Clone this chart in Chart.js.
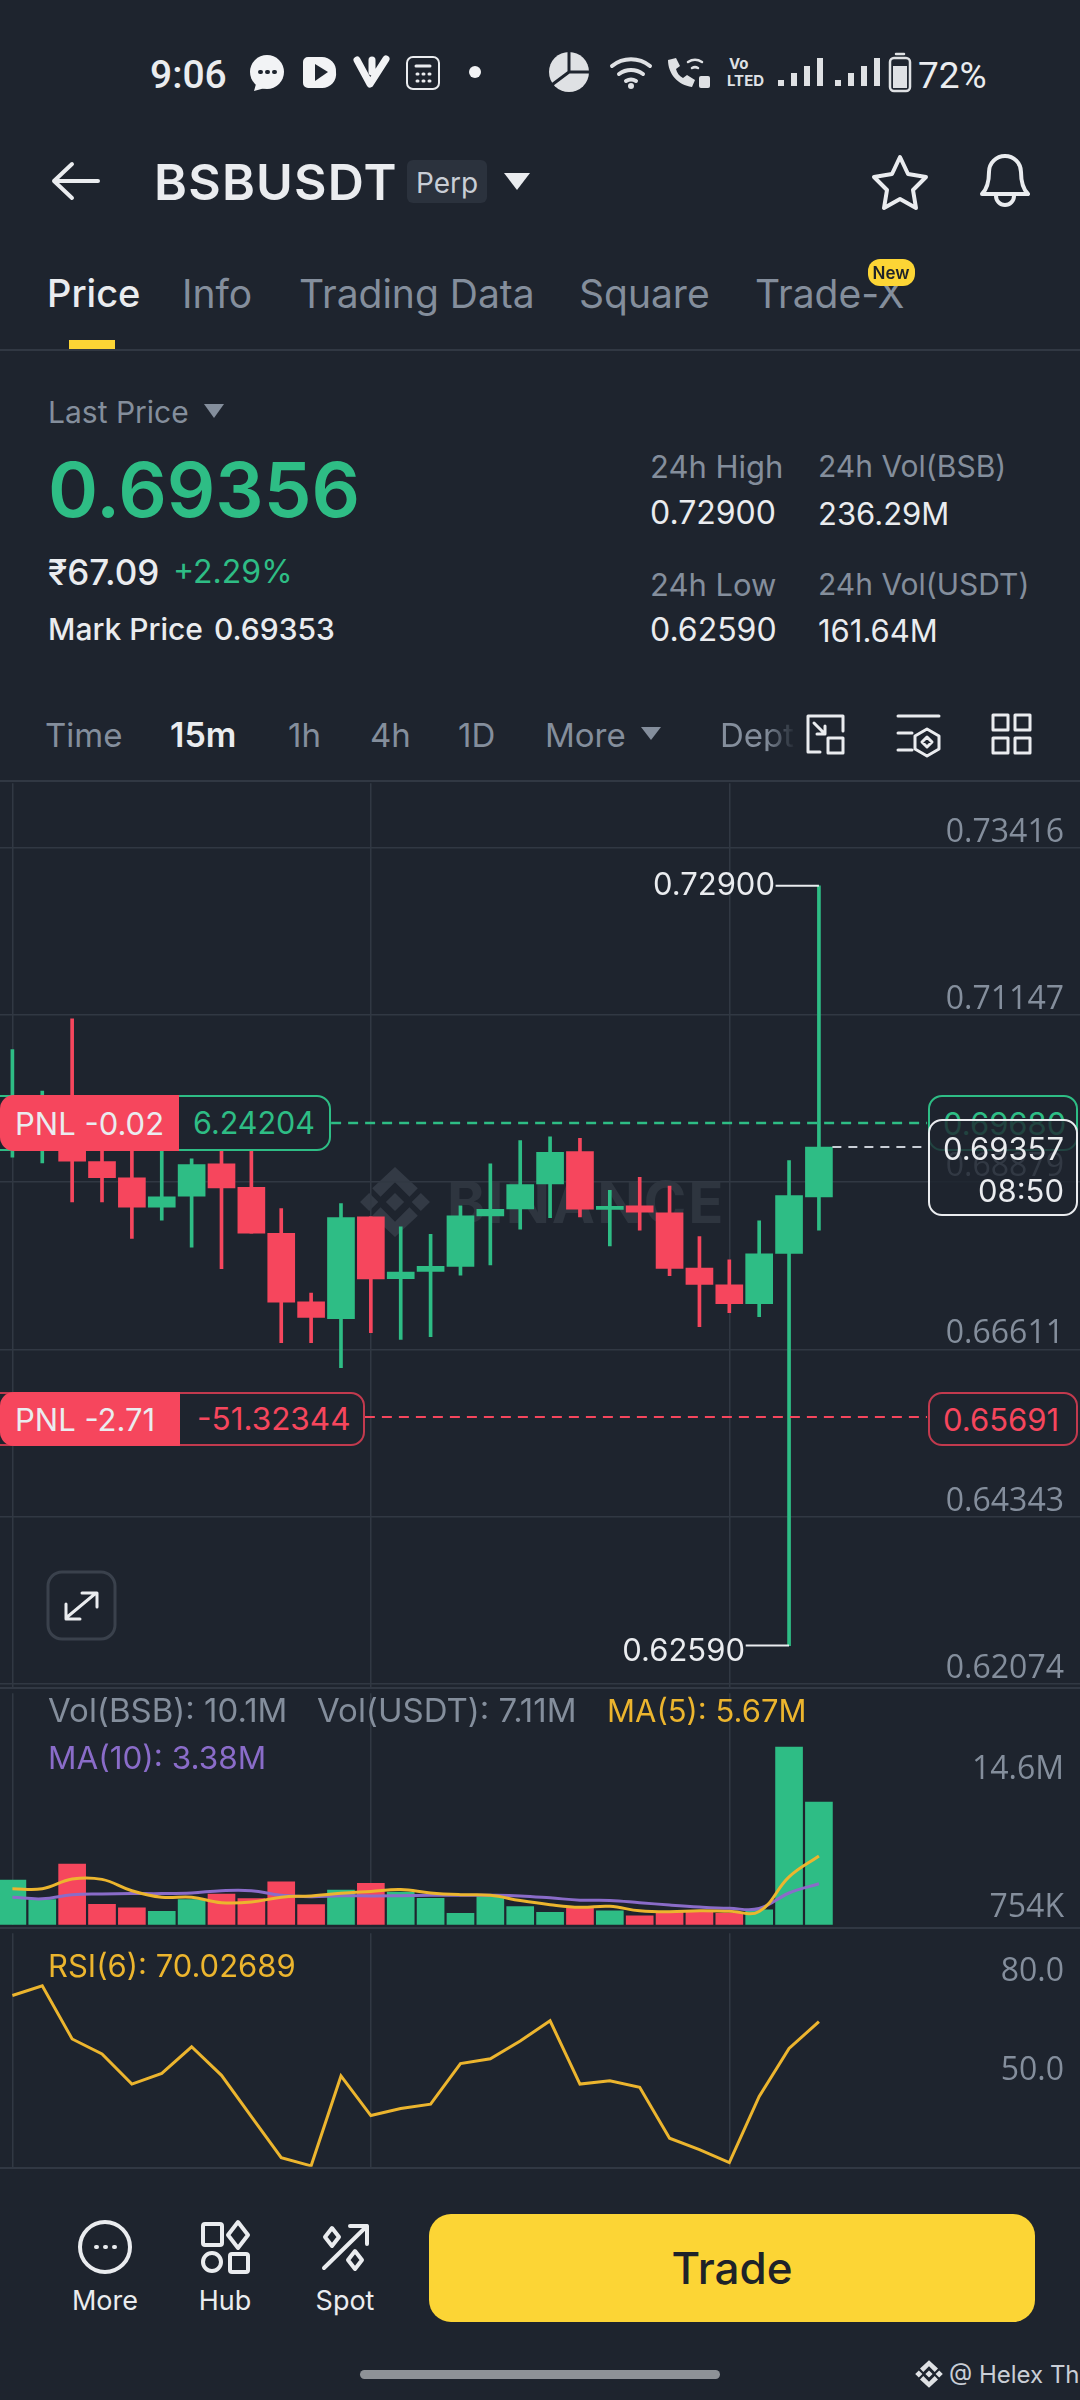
<!DOCTYPE html>
<html lang="en">
<head>
<meta charset="UTF-8">
<title>BSBUSDT Perp</title>
<script src="https://cdn.jsdelivr.net/npm/chart.js"></script>
<style>
    html, body { margin: 0; padding: 0; background: #1e242e; }
    #page { position: relative; width: 1080px; height: 2400px; overflow: hidden; background: #1e242e; font-family: Inter, Roboto, sans-serif; color: #eaecef; }
    .t { position: absolute; white-space: nowrap; transform: translateY(-50%); line-height: 1; z-index: 5; }
    .c { transform: translate(-50%, -50%); }
    .gray { color: #848e9c; }
    .green { color: #2ebd85; }
    .red { color: #f6465d; }
    .yellow { color: #ecb52e; }
    canvas { position: absolute; left: 0; z-index: 2; }
    .rule { position: absolute; left: 0; width: 1080px; height: 2px; background: #313843; z-index: 1; }
    .box { position: absolute; box-sizing: border-box; border-radius: 14px; z-index: 4; }
    .pnl { position: absolute; left: 0; box-sizing: border-box; background: #f6465d; z-index: 4; }
    svg { position: absolute; left: 0; top: 0; }
</style>
</head>
<body>
<div id="page">
    <svg width="1080" height="2400" style="z-index:1">
        <defs>
            <symbol id="bnb" viewBox="0 0 100 100">
                <path d="M50 38L62 50L50 62L38 50Z M16 38L28 50L16 62L4 50Z M84 38L96 50L84 62L72 50Z M50 4L80 32L69 43L50 24L31 43L20 32Z M50 96L80 68L69 57L50 76L31 57L20 68Z"/>
            </symbol>
        </defs>
        <use href="#bnb" x="357" y="1164" width="76" height="76" fill="#333a45"/>
    </svg>
    <div class="t" style="left:447px;top:1202px;font-size:58px;font-weight:700;color:#2e353f;z-index:1;letter-spacing:2px">BINANCE</div>

    <canvas id="priceChart" style="top:780px"></canvas>
    <canvas id="volChart" style="top:1690px"></canvas>
    <canvas id="rsiChart" style="top:1930px"></canvas>

    <div class="rule" style="top:349px"></div>
    <div class="rule" style="top:780px"></div>
    <div class="rule" style="top:1687px"></div>
    <div class="rule" style="top:1927px"></div>
    <div class="rule" style="top:2167px"></div>

    <!-- status bar -->
    <div class="t" style="left:150px;top:75px;font-size:39px;font-weight:500;font-family:Roboto">9:06</div>
    <div class="t" style="left:918px;top:75px;font-size:37px;font-family:Roboto">72%</div>
    <div class="t" style="left:729px;top:63px;font-size:15px;font-weight:700;color:#dfe1e4">Vo</div>
    <div class="t" style="left:727px;top:80px;font-size:15px;font-weight:700;color:#dfe1e4">LTED</div>

    <!-- header -->
    <div class="t" style="left:154px;top:182px;font-size:50px;font-weight:600;letter-spacing:1.2px">BSBUSDT</div>
    <div style="position:absolute;left:407px;top:160px;width:80px;height:43px;border-radius:6px;background:#2b323d"></div>
    <div class="t" style="left:416px;top:183px;font-size:28px;color:#c9ced6">Perp</div>

    <div class="t" style="left:47px;top:293px;font-size:38px;font-weight:500">Price</div>
    <div class="t gray" style="left:182px;top:293px;font-size:39px">Info</div>
    <div class="t gray" style="left:299px;top:293px;font-size:39px">Trading Data</div>
    <div class="t gray" style="left:579px;top:293px;font-size:39px">Square</div>
    <div class="t gray" style="left:755px;top:293px;font-size:39px">Trade-X</div>
    <div style="position:absolute;left:868px;top:259px;width:47px;height:27px;border-radius:12px;background:#fcd535;z-index:6"></div>
    <div class="t c" style="left:891px;top:273px;font-size:17px;font-weight:600;color:#1e2329;z-index:7">New</div>
    <div style="position:absolute;left:69px;top:340px;width:46px;height:9px;background:#fcd535"></div>

    <!-- ticker -->
    <div class="t gray" style="left:48px;top:412px;font-size:30px">Last Price</div>
    <div class="t green" style="left:48px;top:489px;font-size:76px;font-weight:600">0.69356</div>
    <div class="t" style="left:48px;top:572px;font-size:35px;font-weight:500">₹67.09</div>
    <div class="t green" style="left:173px;top:572px;font-size:32px">+2.29%</div>
    <div class="t" style="left:48px;top:629px;font-size:30px;font-weight:500">Mark Price</div>
    <div class="t" style="left:214px;top:629px;font-size:30px;font-weight:500">0.69353</div>

    <div class="t gray" style="left:650px;top:466px;font-size:31px">24h High</div>
    <div class="t" style="left:650px;top:513px;font-size:32px">0.72900</div>
    <div class="t gray" style="left:650px;top:584px;font-size:31px">24h Low</div>
    <div class="t" style="left:650px;top:630px;font-size:32px">0.62590</div>
    <div class="t gray" style="left:818px;top:466px;font-size:30px">24h Vol(BSB)</div>
    <div class="t" style="left:818px;top:513px;font-size:31px">236.29M</div>
    <div class="t gray" style="left:818px;top:584px;font-size:30px">24h Vol(USDT)</div>
    <div class="t" style="left:818px;top:630px;font-size:31px">161.64M</div>

    <!-- interval row -->
    <div class="t gray" style="left:45px;top:735px;font-size:33px">Time</div>
    <div class="t" style="left:170px;top:735px;font-size:34px;font-weight:600">15m</div>
    <div class="t gray" style="left:288px;top:735px;font-size:33px">1h</div>
    <div class="t gray" style="left:370px;top:735px;font-size:33px">4h</div>
    <div class="t gray" style="left:458px;top:735px;font-size:33px">1D</div>
    <div class="t gray" style="left:545px;top:735px;font-size:33px">More</div>
    <div class="t gray" style="left:720px;top:735px;font-size:33px;width:76px;overflow:hidden;-webkit-mask-image:linear-gradient(90deg,#000 60%,transparent)">Depth</div>

    <!-- price pane tags -->
    <div class="box" style="left:-20px;top:1095px;width:351px;height:56px;border:2px solid #2ebd85;background:#1e242e"></div>
    <div class="pnl" style="top:1095px;width:179px;height:56px;border-radius:14px 0 0 14px"></div>
    <div class="t" style="left:15px;top:1123px;font-size:31px;z-index:6">PNL -0.02</div>
    <div class="t green" style="left:193px;top:1123px;font-size:30.5px;z-index:6">6.24204</div>

    <div class="box" style="left:-20px;top:1392px;width:385px;height:54px;border:2px solid #c23a4e;background:#1e242e"></div>
    <div class="pnl" style="top:1392px;width:180px;height:54px;border-radius:14px 0 0 14px"></div>
    <div class="t" style="left:15px;top:1419px;font-size:31px;z-index:6">PNL -2.71</div>
    <div class="t red" style="left:197px;top:1419px;font-size:31.5px;z-index:6">-51.32344</div>

    <div class="box" style="left:928px;top:1095px;width:150px;height:56px;border:2px solid #2ebd85;background:#1e242e"></div>
    <div class="t green" style="left:943px;top:1123px;font-size:31px;z-index:4">0.69680</div>
    <div class="box" style="left:928px;top:1392px;width:150px;height:54px;border:2px solid #c23a4e;background:#1e242e"></div>
    <div class="t red" style="left:943px;top:1419px;font-size:31px">0.65691</div>

    <div class="box" style="left:928px;top:1119px;width:150px;height:97px;border:2px solid #eaecef;background:rgba(30,36,46,.8);z-index:5"></div>
    <div class="t" style="right:16px;top:1148px;font-size:31px;z-index:6">0.69357</div>
    <div class="t" style="right:16px;top:1190px;font-size:31px;z-index:6">08:50</div>

    <div class="t" style="right:305px;top:883px;font-size:31px">0.72900</div>
    <div class="t" style="right:335px;top:1649px;font-size:31px">0.62590</div>

    <!-- vol / rsi legends -->
    <div class="t gray" style="left:48px;top:1710px;font-size:33px">Vol(BSB): 10.1M</div>
    <div class="t gray" style="left:317px;top:1710px;font-size:33px">Vol(USDT): 7.11M</div>
    <div class="t yellow" style="left:607px;top:1710px;font-size:31px">MA(5): 5.67M</div>
    <div class="t" style="left:48px;top:1758px;font-size:31.5px;color:#8a6cc9">MA(10): 3.38M</div>
    <div class="t yellow" style="left:48px;top:1965px;font-size:31px">RSI(6): 70.02689</div>

    <!-- bottom bar -->
    <div class="t c" style="left:105px;top:2300px;font-size:27px">More</div>
    <div class="t c" style="left:225px;top:2300px;font-size:27px">Hub</div>
    <div class="t c" style="left:345px;top:2300px;font-size:27px">Spot</div>
    <div style="position:absolute;left:429px;top:2214px;width:606px;height:108px;border-radius:22px;background:#fcd535"></div>
    <div class="t c" style="left:732px;top:2268px;font-size:44px;font-weight:500;color:#1e2329">Trade</div>
    <div style="position:absolute;left:360px;top:2370px;width:360px;height:9px;border-radius:5px;background:#8e9297"></div>
    <div class="t" style="left:949px;top:2375px;font-size:24px;color:#c9ced6">@ Helex Th</div>

    <!-- icons -->
    <svg width="1080" height="2400" style="z-index:6" fill="none" stroke="#eaecef" stroke-width="4" stroke-linecap="round" stroke-linejoin="round">
        <circle cx="267" cy="72" r="17" fill="#f2f3f5" stroke="none"/>
        <path d="M256 84L254 91L265 88Z" fill="#f2f3f5" stroke="none"/>
        <path d="M260 72h1M267 72h1M274 72h1" stroke="#1e242e"/>
        <path d="M312 57h10a14 14 0 0 1 14 15a14 14 0 0 1-14 16h-14a5 5 0 0 1-5-5v-21a5 5 0 0 1 5-5z" fill="#f2f3f5" stroke="none"/>
        <path d="M315 64L328 72L315 81Z" fill="#1e242e" stroke="none"/>
        <path d="M357 60L370 84L386 59M372 60L372 72" stroke="#f2f3f5" stroke-width="7"/>
        <rect x="407" y="57" width="32" height="32" rx="6" stroke-width="2"/>
        <path d="M416 66h14M417 74h1M423 74h1M429 74h1M417 81h1M423 81h1M429 81h1" stroke-width="3"/>
        <circle cx="475" cy="72" r="6" fill="#f2f3f5" stroke="none"/>
        <circle cx="569" cy="72" r="20" fill="#dfe1e4" stroke="none"/>
        <path d="M569 52V72H589M569 72L553 84" stroke="#1e242e" stroke-width="3"/>
        <path d="M612 66a30 30 0 0 1 38 0M619 74a20 20 0 0 1 24 0M626 81a10 10 0 0 1 10 0" stroke="#dfe1e4" stroke-width="4"/>
        <circle cx="631" cy="86" r="3" fill="#dfe1e4" stroke="none"/>
        <path d="M668 60c0 14 10 25 24 27l3-7l-8-5l-4 3c-4-2-6-5-7-9l4-3l-4-8z" fill="#dfe1e4" stroke="none"/>
        <path d="M688 62a13 13 0 0 1 14 0M692 68a6 6 0 0 1 6 0" stroke="#dfe1e4" stroke-width="2.5"/>
        <rect x="699" y="76" width="11" height="12" rx="2" fill="#dfe1e4" stroke="none"/>
        <path d="M781 86V80M794 86V73M807 86V66M820 86V58M838 86V80M851 86V73M864 86V66M877 86V58" stroke="#dfe1e4" stroke-width="6" stroke-linecap="butt"/>
        <rect x="890" y="58" width="20" height="33" rx="4" stroke="#dfe1e4" stroke-width="2.5"/>
        <path d="M896 54h8" stroke="#dfe1e4" stroke-width="2.5"/>
        <rect x="893" y="66" width="14" height="22" fill="#dfe1e4" stroke="none"/>

        <path d="M98 181H54M72 164L54 181L72 198"/>
        <path d="M504 173H530L517 190Z" fill="#eaecef" stroke="none"/>
        <path d="M900 157L908 174L926 177L913 190L916 208L900 199L884 208L887 190L874 177L892 174Z"/>
        <path d="M982 194C988 188 989 180 989 172A16 16 0 0 1 1021 172C1021 180 1022 188 1028 194ZM996 196a9 9 0 0 0 18 0"/>

        <path d="M204 404H224L214 418Z" fill="#848e9c" stroke="none"/>
        <path d="M641 727H661L651 740Z" fill="#848e9c" stroke="none"/>
        <path d="M820 752H808V716H843V731M814 723L825 734M825 726V734H817" stroke-width="3"/>
        <rect x="828" y="738" width="15" height="15" stroke-width="3"/>
        <path d="M898 716H939M898 733H912M898 750H912M927 729L939 736V749L927 756L915 749V736ZM927 737L932 742L927 747L922 742Z" stroke-width="3"/>
        <rect x="993" y="715" width="15" height="15" stroke-width="3"/>
        <rect x="1015" y="715" width="15" height="15" stroke-width="3"/>
        <rect x="993" y="738" width="15" height="15" stroke-width="3"/>
        <rect x="1015" y="738" width="15" height="15" stroke-width="3"/>

        <rect x="48" y="1572" width="67" height="67" rx="14" stroke="#3a414c" stroke-width="3"/>
        <path d="M66 1618L96 1593M82 1593H97V1607M66 1604V1619H80" stroke-width="3"/>

        <circle cx="105" cy="2247" r="25"/>
        <path d="M96 2247h1M105 2247h1M114 2247h1"/>
        <rect x="203" y="2224" width="19" height="21" rx="2"/>
        <path d="M238 2222L248 2235L238 2248L228 2235Z"/>
        <circle cx="212" cy="2262" r="9"/>
        <rect x="230" y="2254" width="18" height="18" rx="2"/>
        <path d="M324 2268L367 2226M350 2226H367V2244M332 2228L339 2237L332 2246L325 2237ZM355 2251L362 2260L355 2269L348 2260Z"/>
        <use href="#bnb" x="914" y="2359" width="30" height="30" fill="#dfe1e4" stroke="none"/>
    </svg>
</div>

<script>
    // candles oldest to newest
    const candleIndex = [0,1,2,3,4,5,6,7,8,9,10,11,12,13,14,15,16,17,18,19,20,21,22,23,24,25,26,27];
    const opens  = [0.69441,0.69486,0.69486,0.69158,0.68938,0.68538,0.68687,0.69127,0.68808,0.68184,0.67254,0.67025,0.68408,0.67568,0.67667,0.67735,0.68422,0.68516,0.68853,0.69293,0.68507,0.68556,0.68462,0.67712,0.67487,0.67231,0.67910,0.68678];
    const highs  = [0.70676,0.70115,0.71094,0.69396,0.69396,0.69396,0.69194,0.69351,0.69396,0.68520,0.67375,0.68588,0.68408,0.68273,0.68170,0.68556,0.69127,0.69441,0.69495,0.69473,0.68768,0.68943,0.68826,0.68139,0.67824,0.68354,0.69172,0.72900];
    const lows   = [0.69217,0.69140,0.68610,0.68610,0.68116,0.68363,0.67995,0.67703,0.68188,0.66701,0.66701,0.66360,0.66836,0.66746,0.66782,0.67618,0.67757,0.68242,0.68395,0.68408,0.68013,0.68228,0.67609,0.66917,0.67106,0.67052,0.62590,0.68228];
    const closes = [0.69890,0.69800,0.69163,0.68938,0.68538,0.68678,0.69118,0.68799,0.68188,0.67249,0.67043,0.68399,0.67564,0.67658,0.67735,0.68422,0.68511,0.68844,0.69284,0.68511,0.68552,0.68471,0.67708,0.67492,0.67231,0.67905,0.68696,0.69356];

    const volumes = [3690000,2080000,5000000,1680000,1390000,1100000,2080000,2540000,2160000,3530000,1660000,2860000,3420000,2700000,2190000,935000,2350000,1500000,1020000,1360000,1150000,748000,1020000,1200000,935000,1230000,14640000,10100000];
    const volUp = [1,1,0,0,0,1,1,0,0,0,0,1,0,1,1,1,1,1,1,0,1,0,0,0,0,1,1,1];
    const ma5  = [2970000,2970000,3770000,3740000,2810000,2270000,2270000,1820000,1870000,2270000,2380000,2590000,2750000,2910000,2620000,2480000,2430000,2000000,1660000,1440000,1520000,1150000,1070000,1150000,1120000,1100000,3950000,5670000];
    const ma10 = [2270000,2140000,2480000,2540000,2570000,2570000,2620000,2810000,2810000,2430000,2320000,2400000,2380000,2400000,2430000,2430000,2430000,2380000,2220000,2030000,2000000,1820000,1630000,1470000,1360000,1340000,2620000,3380000];
    const rsi6 = [77.94,80.88,64.80,60.29,51.18,54.41,62.45,53.82,41.37,28.92,26.47,53.63,41.67,43.82,45.10,57.35,58.82,64.21,70.29,51.18,52.16,50.19,34.80,31.37,27.45,47.45,61.96,70.03];

    const priceTicks = [0.73416,0.71147,0.68879,0.66611,0.64343,0.62074];
    const timeGridIndex = [0,12,24];
    const volTopTick = [14640000];
    const volTopLabel = ['14.6M'];
    const volLowTick = [754000];
    const volLowLabel = ['754K'];
    const rsiTicks = [80,50];

    const entryPrice = 0.69680;
    const liqPrice = 0.65691;
    const lastPrice = 0.69357;
    const highMark = 0.72900;
    const lowMark = 0.62590;

    const GREEN = '#2ebd85', RED = '#f6465d', GRID = '#313843', TICK = '#848e9c';
    const YELLOW = '#ecb52e', PURPLE = '#8a6cc9';
    const FONT = { family: '"Open Sans"', size: 32 };

    // index range so candle 0 lands at x=12 and spacing is ~29.87px
    const xMin = -0.415, xMax = 35.74;

    Chart.defaults.animation = false;
    Chart.defaults.responsive = false;
    Chart.defaults.devicePixelRatio = 1;
    Chart.defaults.layout.autoPadding = false;
    Chart.defaults.plugins.legend.display = false;
    Chart.defaults.plugins.tooltip.enabled = false;

    function xAxis() {
        return {
            type: 'linear', min: xMin, max: xMax, offset: false, display: true,
            afterBuildTicks: s => { s.ticks = timeGridIndex.map(v => ({ value: v })); },
            ticks: { display: false },
            border: { display: false },
            grid: { color: GRID, lineWidth: 1.5, drawTicks: false, offset: false }
        };
    }

    function yAxis(min, max, tickValues, fmt, labelOffset, showGrid) {
        return {
            type: 'linear', position: 'right', min: min, max: max,
            afterBuildTicks: s => { s.ticks = tickValues.map(v => ({ value: v })); },
            afterFit: s => { s.width = 0; },
            border: { display: false },
            grid: { display: showGrid, color: GRID, lineWidth: 1.5, drawTicks: false },
            ticks: { mirror: true, padding: -16, labelOffset: labelOffset, color: TICK, font: FONT, callback: fmt }
        };
    }

    function flatLine(x0, x1, y, color, dash, width) {
        return {
            type: 'line', data: [{ x: x0, y: y }, { x: x1, y: y }],
            borderColor: color, borderDash: dash, borderWidth: width, pointRadius: 0, order: 0
        };
    }

    function setSize(id, h) {
        const c = document.getElementById(id);
        c.width = 1080; c.height = h;
        return c;
    }

    const candleColors = candleIndex.map(i => closes[i] >= opens[i] ? GREEN : RED);

    new Chart(setSize('priceChart', 910), {
        type: 'bar',
        data: {
            datasets: [
                {
                    data: candleIndex.map(i => ({ x: i, y: [lows[i], highs[i]] })),
                    backgroundColor: candleColors, barThickness: 3, grouped: false, order: 2
                },
                {
                    data: candleIndex.map(i => ({ x: i, y: [opens[i], closes[i]] })),
                    backgroundColor: candleColors, barThickness: 27, grouped: false, order: 1
                },
                flatLine(10.67, 30.62, entryPrice, GREEN, [10, 7], 2.5),
                flatLine(11.8, 30.62, liqPrice, RED, [10, 7], 2),
                flatLine(27.45, 30.62, lastPrice, '#c9ced6', [9, 7], 2),
                flatLine(25.55, 27, highMark, '#eaecef', [], 2),
                flatLine(24.55, 26, lowMark, '#eaecef', [], 2)
            ]
        },
        options: {
            scales: {
                x: xAxis(),
                y: yAxis(0.62031, 0.74292, priceTicks, v => v.toFixed(5), -15, true)
            }
        }
    });

    new Chart(setSize('volChart', 238), {
        type: 'bar',
        data: {
            datasets: [
                {
                    data: candleIndex.map(i => ({ x: i, y: volumes[i] })),
                    backgroundColor: candleIndex.map(i => volUp[i] ? GREEN : RED),
                    barThickness: 27, order: 2
                },
                {
                    type: 'line', data: candleIndex.map(i => ({ x: i, y: ma10[i] })),
                    borderColor: PURPLE, borderWidth: 3, pointRadius: 0, tension: 0.4, order: 1
                },
                {
                    type: 'line', data: candleIndex.map(i => ({ x: i, y: ma5[i] })),
                    borderColor: YELLOW, borderWidth: 3, pointRadius: 0, tension: 0.4, order: 0
                }
            ]
        },
        options: {
            scales: {
                x: xAxis(),
                y: yAxis(0, 19080000, volTopTick, (v, i) => volTopLabel[i], 23, false),
                y2: yAxis(0, 19080000, volLowTick, (v, i) => volLowLabel[i], -8, false)
            }
        }
    });

    new Chart(setSize('rsiChart', 240), {
        type: 'line',
        data: {
            datasets: [{
                data: candleIndex.map(i => ({ x: i, y: rsi6[i] })),
                borderColor: YELLOW, borderWidth: 3, pointRadius: 0, tension: 0
            }]
        },
        options: {
            scales: {
                x: xAxis(),
                y: yAxis(26.18, 96.76, rsiTicks, v => v.toFixed(1), -17, false)
            }
        }
    });
</script>
</body>
</html>
